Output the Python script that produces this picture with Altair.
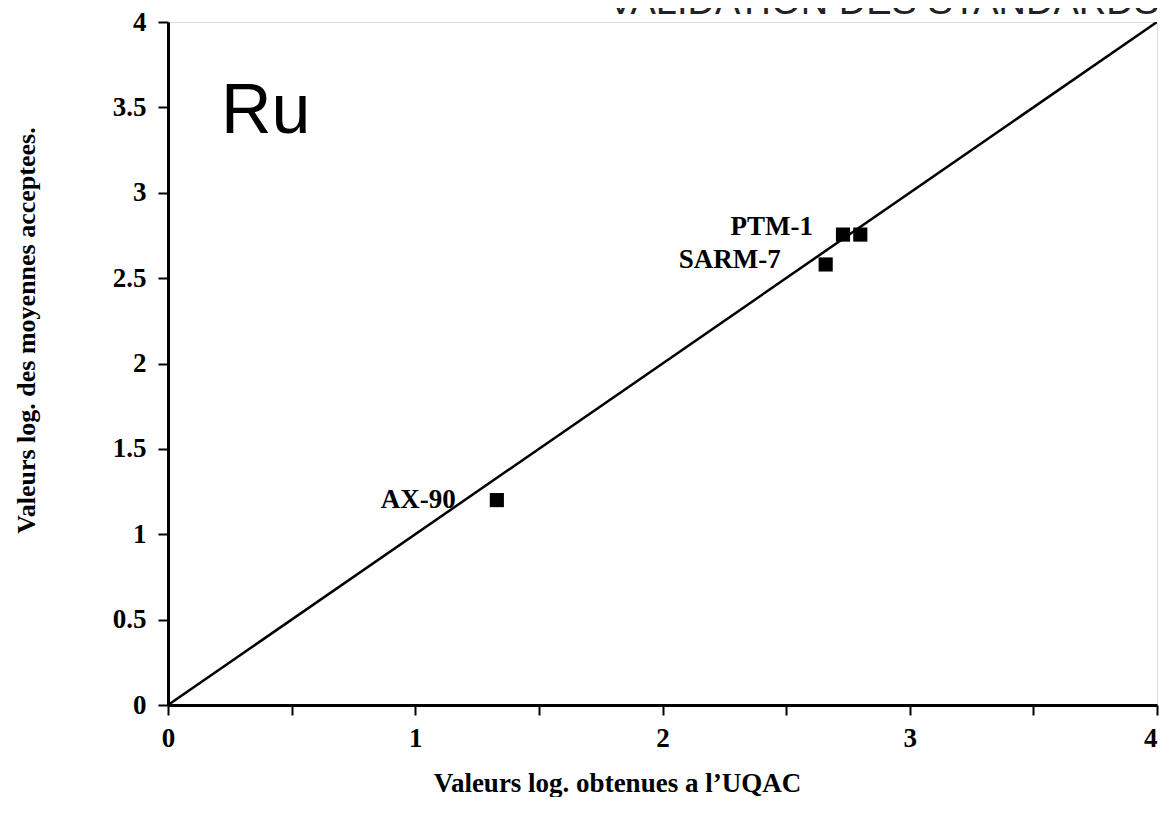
import altair as alt
import pandas as pd

# ---- data ----
standards = ["AX-90", "SARM-7", "PTM-1", "PTM-1"]
uqac_log = [1.33, 2.66, 2.73, 2.80]          # Valeurs log. obtenues a l'UQAC
accepted_log = [1.20, 2.58, 2.755, 2.755]    # Valeurs log. des moyennes acceptees
line_x = [0, 4]
line_y = [0, 4]
tick_values = [0, 0.5, 1, 1.5, 2, 2.5, 3, 3.5, 4]

element = "Ru"
header = "VALIDATION DES STANDARDS"
x_title = "Valeurs log. obtenues a l\u2019UQAC"
y_title = "Valeurs log. des moyennes acceptees."

pts = pd.DataFrame({"label": standards, "x": uqac_log, "y": accepted_log})
lbl = pts.drop_duplicates("label").reset_index(drop=True)
ref = pd.DataFrame({"x": line_x, "y": line_y})

SERIF = "Liberation Serif"
SANS = "Liberation Sans"
W, H = 989, 683

xscale = alt.Scale(domain=[0, 4], nice=False, zero=False)
yscale = alt.Scale(domain=[0, 4], nice=False, zero=False)

xaxis = alt.Axis(
    values=tick_values, format="~g",
    labelExpr="datum.value % 1 == 0 ? datum.label : ''",
    labelAlign={"condition": {"test": "datum.value == 4", "value": "right"}, "value": "center"},
    grid=False, domainColor="black", domainWidth=3,
    tickColor="black", tickWidth=2, tickSize=10,
    labelFont=SERIF, labelFontWeight="bold", labelFontSize=27, labelColor="black",
    labelPadding=10, labelFlush=False,
    title=x_title, titleFont=SERIF, titleFontWeight="bold", titleFontSize=27,
    titleColor="black", titleX=449, titleY=86, titleBaseline="alphabetic",
    titleAnchor="middle", titleAlign="center",
)
yaxis = alt.Axis(
    values=tick_values, format="~g",
    grid=False, domainColor="black", domainWidth=3,
    tickColor="black", tickWidth=2, tickSize=10,
    labelFont=SERIF, labelFontWeight="bold", labelFontSize=27, labelColor="black",
    labelPadding=12, labelFlush=False,
    title=y_title, titleFont=SERIF, titleFontWeight="bold", titleFontSize=26,
    titleColor="black", titleX=-134, titleY=308, titleAngle=-90,
    titleBaseline="alphabetic", titleAlign="center",
)

diag = alt.Chart(ref).mark_line(color="black", strokeWidth=2.5, clip=True).encode(
    x=alt.X("x:Q", scale=xscale, axis=xaxis),
    y=alt.Y("y:Q", scale=yscale, axis=yaxis),
)

points = alt.Chart(pts).mark_point(
    shape="square", filled=True, size=200, color="black", opacity=1
).encode(x=alt.X("x:Q", scale=xscale), y=alt.Y("y:Q", scale=yscale))

offsets = {"AX-90": (-41, 0), "SARM-7": (-45, -4), "PTM-1": (-30, -8)}
texts = []
for name, (dx, dy) in offsets.items():
    texts.append(
        alt.Chart(lbl).transform_filter(alt.datum.label == name).mark_text(
            font=SERIF, fontWeight="bold", fontSize=27, color="black",
            align="right", baseline="middle", dx=dx, dy=dy,
        ).encode(x=alt.X("x:Q", scale=xscale), y=alt.Y("y:Q", scale=yscale), text="label:N")
    )

ru = alt.Chart(pd.DataFrame({"t": [element]})).mark_text(
    font=SANS, fontSize=70, color="black", align="left", baseline="alphabetic"
).encode(x=alt.value(53), y=alt.value(111), text="t:N")

head = alt.Chart(pd.DataFrame({"t": [header]})).mark_text(
    font=SANS, fontSize=38, color="#222222", align="right", baseline="alphabetic"
).encode(x=alt.value(991), y=alt.value(-8), text="t:N")

chart = alt.layer(diag, points, *texts, ru, head).properties(
    width=W, height=H,
    autosize=alt.AutoSizeParams(type="none"),
    padding={"left": 160, "top": 14, "right": 4, "bottom": 92},
).configure_view(stroke="black", strokeWidth=3).configure(background="white")

chart.save("out.html", embed_options={"renderer": "svg", "actions": False})
